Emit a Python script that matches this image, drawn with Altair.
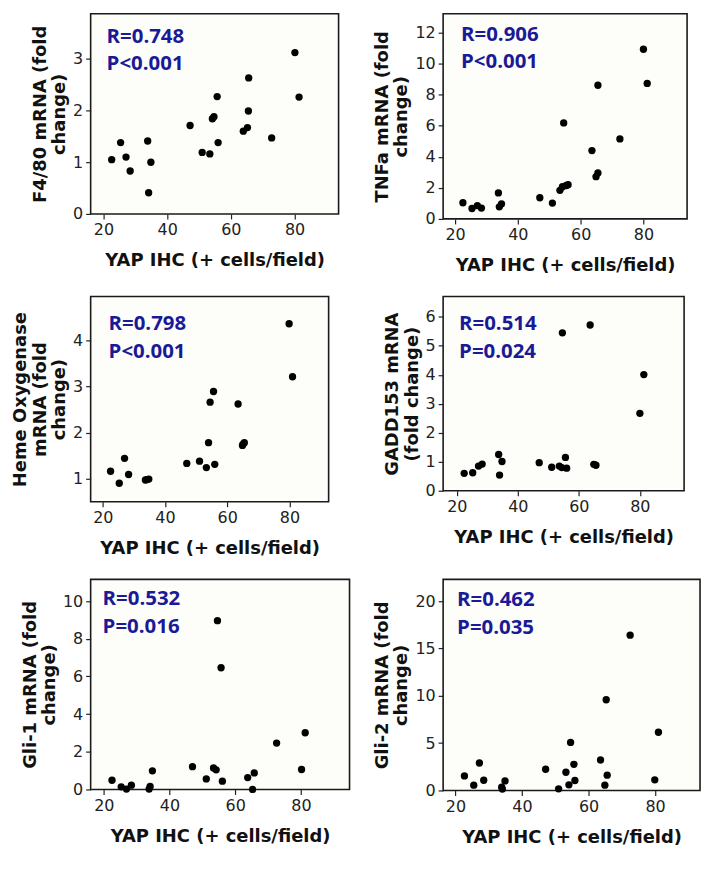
import altair as alt
import pandas as pd

# ---------------- data ----------------
yap_f480 = [22.6, 25.4, 27.1, 28.4, 33.9, 34.2, 34.9, 47.2, 51.0, 53.4, 54.2, 54.7, 55.7, 56.0, 63.9, 65.2, 65.5, 65.6, 72.8, 80.1, 81.4]
f480 = [1.05, 1.38, 1.10, 0.83, 1.41, 0.41, 1.00, 1.71, 1.19, 1.16, 1.84, 1.88, 2.27, 1.38, 1.60, 1.67, 1.99, 2.63, 1.47, 3.12, 2.26]

yap_tnfa = [22.5, 25.4, 27.1, 28.4, 33.8, 34.1, 34.8, 47.0, 51.0, 53.4, 54.2, 54.6, 55.4, 56.0, 63.6, 64.9, 65.5, 65.5, 72.5, 80.0, 81.2]
tnfa = [1.04, 0.67, 0.86, 0.70, 1.67, 0.78, 0.97, 1.36, 1.02, 1.84, 2.07, 6.18, 2.15, 2.20, 4.40, 2.72, 2.96, 8.60, 5.15, 10.92, 8.72]

yap_heme = [22.5, 25.3, 27.0, 28.3, 33.7, 34.2, 34.8, 47.0, 51.1, 53.3, 54.0, 54.5, 55.6, 56.0, 63.5, 64.9, 65.1, 65.5, 79.9, 81.0]
heme = [1.16, 0.90, 1.44, 1.09, 0.97, 0.98, 0.99, 1.33, 1.38, 1.24, 1.78, 2.66, 2.89, 1.31, 2.62, 1.72, 1.75, 1.78, 4.36, 3.21]

yap_gadd = [22.4, 25.2, 27.1, 28.3, 33.7, 34.0, 34.8, 47.0, 51.1, 53.6, 54.4, 54.6, 55.6, 56.0, 63.7, 64.9, 65.6, 80.0, 81.3]
gadd = [0.60, 0.62, 0.85, 0.92, 1.25, 0.54, 1.01, 0.97, 0.81, 0.85, 0.80, 5.45, 1.15, 0.78, 5.72, 0.91, 0.88, 2.67, 4.01]

yap_gli1 = [22.5, 25.3, 26.9, 28.4, 33.8, 34.1, 34.8, 47.0, 51.2, 53.4, 54.2, 54.6, 55.7, 56.1, 63.8, 65.3, 65.8, 72.6, 80.2, 81.3]
gli1 = [0.49, 0.14, 0.02, 0.23, 0.02, 0.16, 0.99, 1.21, 0.56, 1.14, 1.04, 8.96, 6.46, 0.44, 0.63, 0.00, 0.88, 2.46, 1.06, 3.01]

yap_gli2 = [22.7, 25.5, 27.2, 28.5, 33.9, 34.1, 34.9, 47.1, 51.0, 53.2, 54.1, 54.6, 55.6, 55.9, 63.6, 64.9, 65.3, 65.6, 72.5, 79.9, 81.0]
gli2 = [1.54, 0.56, 2.90, 1.08, 0.35, 0.15, 1.01, 2.24, 0.17, 1.92, 0.59, 5.07, 2.76, 1.05, 3.22, 0.56, 9.58, 1.61, 16.40, 1.12, 6.15]

y_titles = [
    ["F4/80 mRNA (fold", "change)"],
    ["TNFa mRNA (fold", "change)"],
    ["Heme Oxygenase", "mRNA (fold", "change)"],
    ["GADD153 mRNA", "(fold change)"],
    ["Gli-1 mRNA (fold", "change)"],
    ["Gli-2 mRNA (fold", "change)"],
]
r_labels = ["R=0.748", "R=0.906", "R=0.798", "R=0.514", "R=0.532", "R=0.462"]
p_labels = ["P<0.001", "P<0.001", "P<0.001", "P=0.024", "P=0.016", "P=0.035"]
y_ticks = [
    [0, 1, 2, 3],
    [0, 2, 4, 6, 8, 10, 12],
    [1, 2, 3, 4],
    [0, 1, 2, 3, 4, 5, 6],
    [0, 2, 4, 6, 8, 10],
    [0, 5, 10, 15, 20],
]
x_ticks = [20, 40, 60, 80]
x_title = "YAP IHC (+ cells/field)"

# ---------------- layout / style ----------------
y_domains = [[0, 3.87], [0, 13.2], [0.5, 4.95], [0, 6.7], [0, 11.15], [0, 22.3]]
x_domains = [[16, 93.8], [16.2, 93.9], [16.1, 92.6], [15.5, 94.5], [16, 94.8], [16.3, 93.5]]
sizes = [(249, 201), (245, 206), (239, 206), (242, 195), (260, 211), (258, 212)]
ann_pos = [(16, 29), (18, 27), (18, 34), (16, 34), (12, 26), (14, 27)]

NAVY = "#1a1a96"
series = [(yap_f480, f480), (yap_tnfa, tnfa), (yap_heme, heme),
          (yap_gadd, gadd), (yap_gli1, gli1), (yap_gli2, gli2)]

panels = []
for i, (xs, ys) in enumerate(series):
    df = pd.DataFrame({"yap": xs, "val": ys})
    pts = alt.Chart(df).mark_circle(size=54, color="black", opacity=1).encode(
        x=alt.X("yap:Q",
                scale=alt.Scale(domain=x_domains[i], nice=False, zero=False),
                axis=alt.Axis(values=x_ticks, title=x_title)),
        y=alt.Y("val:Q",
                scale=alt.Scale(domain=y_domains[i], nice=False, zero=False),
                axis=alt.Axis(values=y_ticks[i], title=y_titles[i])),
    )
    ann_df = pd.DataFrame({"t": [r_labels[i] + "\n" + p_labels[i]]})
    ann = alt.Chart(ann_df).mark_text(
        align="left", baseline="alphabetic", font="Open Sans", fontSize=20.5,
        fontWeight="bold", color=NAVY, lineBreak="\n", lineHeight=27.5,
    ).encode(text="t:N", x=alt.value(ann_pos[i][0]), y=alt.value(ann_pos[i][1]))
    w, h = sizes[i]
    panels.append(alt.layer(pts, ann).properties(width=w, height=h))

chart = alt.concat(
    *panels, columns=2, spacing={"row": 78, "column": 94}, bounds="flush"
).properties(
    padding={"left": 3, "top": 3, "right": 5, "bottom": 5}
).configure_view(
    fill="#fdfdfa", stroke="#1a1a1a", strokeWidth=1.6
).configure_axis(
    labelFont="DejaVu Sans", labelFontSize=16, labelColor="#222",
    titleFont="DejaVu Sans", titleFontSize=18, titleFontWeight="bold", titleColor="#111",
    tickColor="#222", tickSize=5, tickWidth=1.2, domain=False, grid=False, labelPadding=3,
).configure_axisY(
    titlePadding=4, titleLineHeight=19.5,
).configure_axisX(
    titlePadding=14,
)

chart.save("out.html", embed_options={"renderer": "svg", "actions": False})
